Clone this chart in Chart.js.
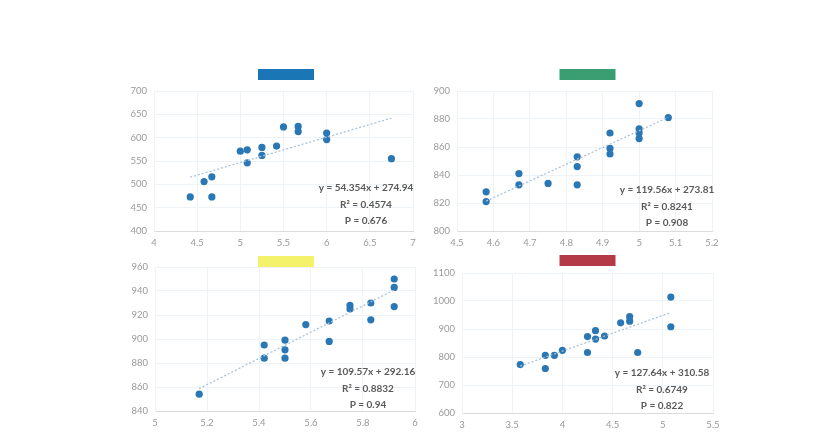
<!DOCTYPE html>
<html>
<head>
<meta charset="utf-8">
<script src="https://cdn.jsdelivr.net/npm/chart.js@4.4.0/dist/chart.umd.min.js"></script>
<style>
  html, body { margin: 0; padding: 0; background: #fff; }
  body { width: 829px; height: 447px; position: relative; overflow: hidden; }
  canvas { position: absolute; }
</style>
</head>
<body>
<canvas id="c0"></canvas>
<canvas id="c1"></canvas>
<canvas id="c2"></canvas>
<canvas id="c3"></canvas>
<script>
// ---- dados ----
const xA = [4.42, 4.58, 4.67, 4.67, 5.0, 5.08, 5.08, 5.25, 5.25, 5.42, 5.5, 5.67, 5.67, 6.0, 6.0, 6.75];
const yA = [473, 506, 516, 473, 571, 574, 546, 579, 562, 582, 623, 624, 613, 610, 596, 555];

const xB = [4.58, 4.58, 4.67, 4.67, 4.75, 4.83, 4.83, 4.83, 4.92, 4.92, 4.92, 5.0, 5.0, 5.0, 5.0, 5.08];
const yB = [828, 821, 841, 833, 834, 853, 846, 833, 870, 859, 855, 891, 873, 870, 866, 881];

const xC = [5.17, 5.42, 5.42, 5.5, 5.5, 5.5, 5.58, 5.67, 5.67, 5.75, 5.75, 5.83, 5.83, 5.92, 5.92, 5.92];
const yC = [854, 895, 884, 899, 891, 884, 912, 915, 898, 928, 925, 930, 916, 950, 943, 927];

const xD = [3.58, 3.83, 3.83, 3.92, 4.0, 4.25, 4.25, 4.33, 4.33, 4.42, 4.58, 4.67, 4.67, 4.75, 5.08, 5.08];
const yD = [773, 806, 759, 806, 824, 873, 816, 894, 864, 875, 922, 944, 928, 816, 1014, 908];

// linha de tendência (equação mostrada em cada painel)
const slopes = [54.354, 119.56, 109.57, 127.64];
const intercepts = [274.94, 273.81, 292.16, 310.58];
const eqLabels = ['y = 54.354x + 274.94', 'y = 119.56x + 273.81', 'y = 109.57x + 292.16', 'y = 127.64x + 310.58'];
const r2Labels = ['R² = 0.4574', 'R² = 0.8241', 'R² = 0.8832', 'R² = 0.6749'];
const pLabels = ['P = 0.676', 'P = 0.908', 'P = 0.94', 'P = 0.822'];

// eixos
const xMins = [4, 4.5, 5, 3];
const xMaxs = [7, 5.2, 6, 5.5];
const xSteps = [0.5, 0.1, 0.2, 0.5];
const yMins = [400, 800, 840, 600];
const yMaxs = [700, 900, 960, 1100];
const ySteps = [50, 20, 20, 100];

const seriesX = [xA, xB, xC, xD];
const seriesY = [yA, yB, yC, yD];
const barColors = ['#1a76b5', '#3a9e72', '#f4f26a', '#b53a48'];

// posição de cada painel na página (área do gráfico)
const areas = [
    { left: 154, top: 91, right: 413, bottom: 231, barX: 286, barY: 69, textX: 366, textY: 188 },
    { left: 457, top: 91, right: 712, bottom: 231, barX: 587.5, barY: 69, textX: 667, textY: 190 },
    { left: 155, top: 267, right: 415, bottom: 411, barX: 286, barY: 256, textX: 368, textY: 372 },
    { left: 462, top: 273, right: 713, bottom: 413, barX: 587.5, barY: 255, textX: 662, textY: 373 }
];

const Y_AXIS_W = 40, X_AXIS_H = 24, PAD_TOP = 26, PAD_RIGHT = 20;

const decorPlugin = {
    id: 'decor',
    afterDraw(chart, args, opts) {
        const ctx = chart.ctx;
        const a = opts.area;
        const ox = opts.canvasLeft, oy = opts.canvasTop;
        ctx.save();
        // barra colorida do título
        ctx.fillStyle = opts.barColor;
        ctx.fillRect(a.barX - 28 - ox, a.barY - oy, 56, 11);
        // equação, R² e P
        ctx.fillStyle = '#5a5a5a';
        ctx.font = 'bold 10px Lato';
        ctx.textAlign = 'center';
        ctx.textBaseline = 'middle';
        opts.lines.forEach((t, i) => ctx.fillText(t, a.textX - ox, a.textY + i * 16.5 - oy));
        ctx.restore();
    }
};

function fmt(v) {
    return String(+Number(v).toFixed(2));
}

function criaPainel(i) {
    const a = areas[i];
    const canvas = document.getElementById('c' + i);
    const left = a.left - Y_AXIS_W;
    const top = a.top - PAD_TOP;
    const w = (a.right - a.left) + Y_AXIS_W + PAD_RIGHT;
    const h = (a.bottom - a.top) + PAD_TOP + X_AXIS_H;
    canvas.style.left = left + 'px';
    canvas.style.top = top + 'px';
    canvas.width = w;
    canvas.height = h;
    canvas.style.width = w + 'px';
    canvas.style.height = h + 'px';

    const xs = seriesX[i], ys = seriesY[i];
    const pontos = xs.map((x, k) => ({ x: x, y: ys[k] }));
    const x0 = Math.min(...xs), x1 = Math.max(...xs);
    const tendencia = [
        { x: x0, y: slopes[i] * x0 + intercepts[i] },
        { x: x1, y: slopes[i] * x1 + intercepts[i] }
    ];

    new Chart(canvas.getContext('2d'), {
        type: 'scatter',
        data: {
            datasets: [{
                type: 'line',
                data: tendencia,
                showLine: true,
                borderColor: '#a9c3d8',
                borderWidth: 1.3,
                borderDash: [2, 2],
                pointRadius: 0,
                fill: false
            }, {
                data: pontos,
                backgroundColor: '#2a77b6',
                borderWidth: 0,
                pointRadius: 3.6
            }]
        },
        options: {
            responsive: false,
            animation: false,
            devicePixelRatio: 1,
            layout: { padding: { top: PAD_TOP, right: PAD_RIGHT, left: 0, bottom: 0 } },
            plugins: {
                legend: { display: false },
                tooltip: { enabled: false },
                decor: {
                    area: a,
                    canvasLeft: left,
                    canvasTop: top,
                    barColor: barColors[i],
                    lines: [eqLabels[i], r2Labels[i], pLabels[i]]
                }
            },
            scales: {
                x: {
                    type: 'linear',
                    min: xMins[i],
                    max: xMaxs[i],
                    ticks: {
                        stepSize: xSteps[i],
                        color: '#999999',
                        font: { family: 'Lato', size: 9.5 },
                        padding: 6,
                        maxRotation: 0,
                        autoSkip: false,
                        callback: fmt
                    },
                    grid: { color: '#eef3f8', drawTicks: false },
                    border: { display: true, color: '#dcdcdc' },
                    afterFit(scale) {
                        scale.height = X_AXIS_H;
                        scale.paddingLeft = 0;
                        scale.paddingRight = 0;
                    }
                },
                y: {
                    min: yMins[i],
                    max: yMaxs[i],
                    ticks: {
                        stepSize: ySteps[i],
                        color: '#999999',
                        font: { family: 'Lato', size: 9.5 },
                        padding: 7,
                        autoSkip: false,
                        callback: fmt
                    },
                    grid: { color: '#eef3f8', drawTicks: false },
                    border: { display: true, color: '#eef3f8' },
                    afterFit(scale) {
                        scale.width = Y_AXIS_W;
                        scale.paddingTop = 0;
                        scale.paddingBottom = 0;
                    }
                }
            }
        },
        plugins: [decorPlugin]
    });
}

document.addEventListener('DOMContentLoaded', () => {
    for (let i = 0; i < 4; i++) criaPainel(i);
});
</script>
</body>
</html>
